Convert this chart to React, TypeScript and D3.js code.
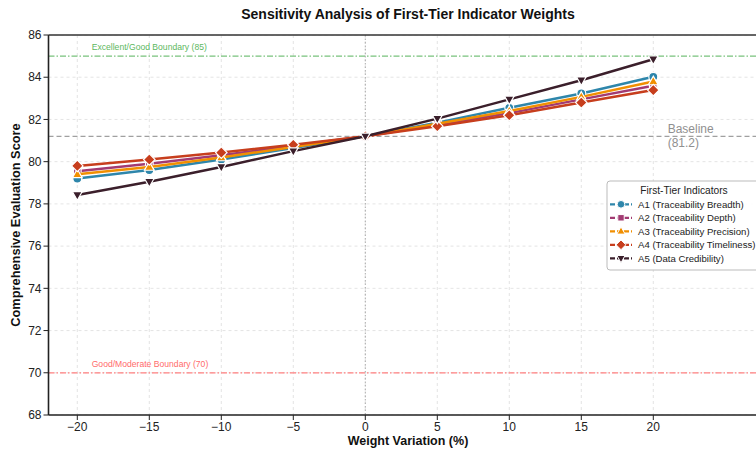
import React from 'react';
import * as d3 from 'd3';

// ==== data

const variations = [-20, -15, -10, -5, 0, 5, 10, 15, 20];

const seriesNames = [
    'A1 (Traceability Breadth)',
    'A2 (Traceability Depth)',
    'A3 (Traceability Precision)',
    'A4 (Traceability Timeliness)',
    'A5 (Data Credibility)'
];

const a1Scores = [79.2, 79.6, 80.1, 80.65, 81.2, 81.85, 82.55, 83.23, 84.02];
const a2Scores = [79.55, 79.9, 80.3, 80.75, 81.2, 81.75, 82.3, 82.95, 83.6];
const a3Scores = [79.4, 79.75, 80.2, 80.7, 81.2, 81.8, 82.4, 83.07, 83.8];
const a4Scores = [79.8, 80.1, 80.43, 80.8, 81.2, 81.68, 82.2, 82.8, 83.39];
const a5Scores = [78.42, 79.05, 79.75, 80.5, 81.2, 82.04, 82.95, 83.86, 84.85];

const colors = ['#2E86AB', '#A23B72', '#F18F01', '#C73E1D', '#3B1F2B'];
const markers = ['circle', 'square', 'triangle', 'diamond', 'triangleDown'];

const xTicks = [-20, -15, -10, -5, 0, 5, 10, 15, 20];
const yTicks = [68, 70, 72, 74, 76, 78, 80, 82, 84, 86];

const baseline = 81.2;
const upperBoundary = 85;
const lowerBoundary = 70;

// ====

const W = 756;
const H = 454;
const FONT = '"Liberation Sans", Arial, sans-serif';

const markerPath = (type: string, s: number) => {
    switch (type) {
        case 'circle':
            return d3.symbol().type(d3.symbolCircle).size(Math.PI * s * s)();
        case 'square':
            return `M${-s},${-s}H${s}V${s}H${-s}Z`;
        case 'triangle':
            return `M0,${-s * 1.2}L${s * 1.1},${s * 0.75}L${-s * 1.1},${s * 0.75}Z`;
        case 'triangleDown':
            return `M0,${s * 1.2}L${s * 1.1},${-s * 0.75}L${-s * 1.1},${-s * 0.75}Z`;
        case 'diamond':
            return `M0,${-s * 1.3}L${s * 1.3},0L0,${s * 1.3}L${-s * 1.3},0Z`;
        default:
            return '';
    }
};

const markerSize = (type: string) => (type === 'square' ? 3.8 : type === 'circle' ? 4.5 : 4.4);

function App() {
    const x = d3.scaleLinear().domain([-22, 28]).range([48.5, 768.5]);
    const y = d3.scaleLinear().domain([68, 86]).range([415, 35]);

    const left = 48.5;
    const right = W;
    const top = 35;
    const bottom = 415;

    const allSeries = [a1Scores, a2Scores, a3Scores, a4Scores, a5Scores];

    const line = d3.line<number>()
        .x((d, i) => x(variations[i]))
        .y((d) => y(d));

    const lx = 607;
    const ly = 181;

    return (
        <svg width={W} height={H} style={{ position: 'absolute', left: 0, top: 0, fontFamily: FONT }}>
            <rect width={W} height={H} fill="#fff" />
            <defs>
                <clipPath id="plot">
                    <rect x={left} y={top} width={right - left} height={bottom - top} />
                </clipPath>
            </defs>

            <text x={408} y={19} textAnchor="middle" fontSize={14} fontWeight="bold" fill="#111">
                Sensitivity Analysis of First-Tier Indicator Weights
            </text>

            <g clipPath="url(#plot)">
                {xTicks.map((t) => (
                    <line key={'gx' + t} x1={x(t)} x2={x(t)} y1={top} y2={bottom}
                        stroke="#ddd" strokeWidth={0.8} strokeDasharray="3,3" />
                ))}
                {yTicks.map((t) => (
                    <line key={'gy' + t} x1={left} x2={right} y1={y(t)} y2={y(t)}
                        stroke="#ddd" strokeWidth={0.8} strokeDasharray="3,3" />
                ))}

                <line x1={left} x2={right} y1={y(upperBoundary)} y2={y(upperBoundary)}
                    stroke="#78c27c" strokeWidth={1.2} strokeDasharray="6,2,1.5,2" />
                <text x={x(-19)} y={y(upperBoundary) - 6} fontSize={8.6} fill="#5cb860">
                    Excellent/Good Boundary (85)
                </text>

                <line x1={left} x2={right} y1={y(lowerBoundary)} y2={y(lowerBoundary)}
                    stroke="#ff8080" strokeWidth={1.2} strokeDasharray="6,2,1.5,2" />
                <text x={x(-19)} y={y(lowerBoundary) - 5.5} fontSize={8.6} fill="#ff6b6b">
                    Good/Moderate Boundary (70)
                </text>

                <line x1={left} x2={right} y1={y(baseline)} y2={y(baseline)}
                    stroke="#a0a0a0" strokeWidth={1.4} strokeDasharray="5,3" />
                <line x1={x(0)} x2={x(0)} y1={top} y2={bottom}
                    stroke="#aaa" strokeWidth={1} strokeDasharray="1.5,2" />
                <text x={x(21)} y={y(baseline) - 3} fontSize={12} fill="#909090">Baseline</text>
                <text x={x(21)} y={y(baseline) + 11} fontSize={12} fill="#909090">(81.2)</text>

                {allSeries.map((s, k) => (
                    <g key={'s' + k}>
                        <path d={line(s) || ''} fill="none" stroke={colors[k]} strokeWidth={2.5}
                            strokeLinejoin="round" />
                        {s.map((v, i) => (
                            <path key={i} d={markerPath(markers[k], markerSize(markers[k])) || ''}
                                transform={`translate(${x(variations[i])},${y(v)})`}
                                fill={colors[k]} stroke="#fff" strokeWidth={1.2} />
                        ))}
                    </g>
                ))}
            </g>

            {/* spines */}
            <line x1={left} x2={left} y1={top} y2={bottom} stroke="#222" strokeWidth={1.6} />
            <line x1={left} x2={right} y1={bottom} y2={bottom} stroke="#222" strokeWidth={1.6} />
            <line x1={left} x2={right} y1={top} y2={top} stroke="#333" strokeWidth={1.6} />

            {yTicks.map((t) => (
                <g key={'yt' + t}>
                    <line x1={left - 5} x2={left} y1={y(t)} y2={y(t)} stroke="#222" strokeWidth={1} />
                    <text x={left - 7} y={y(t)} dy="0.35em" textAnchor="end" fontSize={12} fill="#222">{t}</text>
                </g>
            ))}
            {xTicks.map((t) => (
                <g key={'xt' + t}>
                    <line x1={x(t)} x2={x(t)} y1={bottom} y2={bottom + 5} stroke="#222" strokeWidth={1} />
                    <text x={x(t)} y={bottom + 16} textAnchor="middle" fontSize={12} fill="#222">
                        {t < 0 ? '\u2212' + Math.abs(t) : t}
                    </text>
                </g>
            ))}

            <text x={408} y={445} textAnchor="middle" fontSize={12.5} fontWeight="bold" fill="#111">
                Weight Variation (%)
            </text>
            <text transform={`translate(20,${(top + bottom) / 2}) rotate(-90)`} textAnchor="middle"
                fontSize={12.8} fontWeight="bold" fill="#111">
                Comprehensive Evaluation Score
            </text>

            {/* legend */}
            <rect x={lx} y={ly} width={170} height={89} rx={3} fill="#fff" fillOpacity={0.9}
                stroke="#bbb" strokeWidth={1} />
            <text x={684} y={ly + 9} dy="0.35em" textAnchor="middle" fontSize={10.2} fill="#222">
                First-Tier Indicators
            </text>
            {seriesNames.map((name, k) => {
                const ry = 204.3 + k * 13.5;
                return (
                    <g key={'lg' + k}>
                        <line x1={610} x2={632} y1={ry} y2={ry} stroke={colors[k]} strokeWidth={2.2}
                            strokeDasharray="5,2" />
                        <path d={markerPath(markers[k], markerSize(markers[k]) * 0.85) || ''}
                            transform={`translate(621,${ry})`} fill={colors[k]} stroke="#fff" strokeWidth={1} />
                        <text x={638} y={ry} dy="0.35em" fontSize={9.6} fill="#222">{name}</text>
                    </g>
                );
            })}
        </svg>
    );
}

export default App;
